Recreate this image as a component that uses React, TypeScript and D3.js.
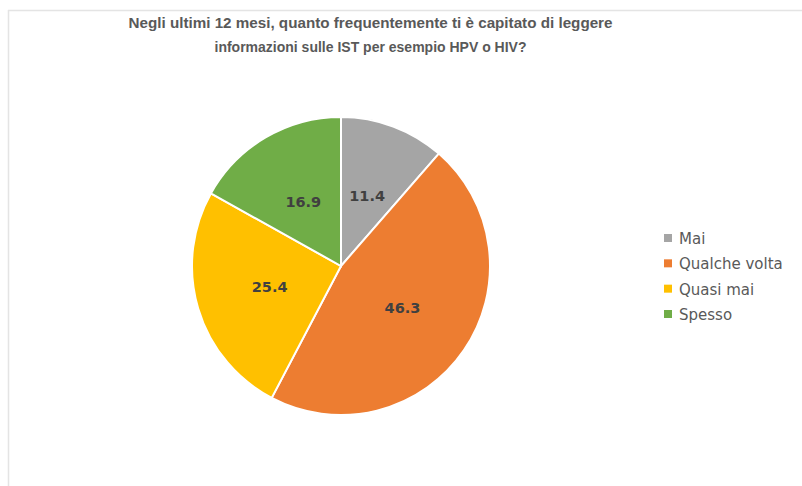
import React from "react";
import * as d3 from "d3";

const titleLines = [
  "Negli ultimi 12 mesi, quanto frequentemente ti è capitato di leggere",
  "informazioni sulle IST per esempio HPV o HIV?",
];
const categories = ["Mai", "Qualche volta", "Quasi mai", "Spesso"];
const values = [11.4, 46.3, 25.4, 16.9];
const colors = ["#A5A5A5", "#ED7D31", "#FFC000", "#70AD47"];

const W = 802;
const H = 486;
const cx = 341;
const cy = 266;
const R = 149;

export default function App() {
  const data = categories.map((c, i) => ({ cat: c, value: values[i], color: colors[i] }));
  const pie = d3
    .pie<any>()
    .sort(null)
    .value((d: any) => d.value)
    .startAngle(0)
    .endAngle(2 * Math.PI);
  const arcs = pie(data);
  const arc = d3.arc<any>().innerRadius(0).outerRadius(R);
  const labelArc = d3.arc<any>().innerRadius(0).outerRadius(R);

  const legendY = d3
    .scalePoint<string>()
    .domain(categories)
    .range([238.5, 314.5]);

  return (
    <svg
      width={W}
      height={H}
      style={{ position: "absolute", left: 0, top: 0, background: "#fff" }}
    >
      <rect x={0} y={0} width={W} height={H} fill="#fff" />
      <line x1={8} y1={10.5} x2={W} y2={10.5} stroke="#e4e4e4" strokeWidth={1.5} />
      <line x1={8.5} y1={10} x2={8.5} y2={H} stroke="#e4e4e4" strokeWidth={1.5} />
      <g
        fontFamily="'Liberation Sans', Arial, sans-serif"
        fontWeight="bold"
        fontSize={15.5}
        fill="#595959"
        textAnchor="middle"
      >
        <text x={370.5} y={28} textLength={484} lengthAdjust="spacingAndGlyphs">
          {titleLines[0]}
        </text>
        <text x={370.5} y={51.5} textLength={312} lengthAdjust="spacingAndGlyphs">
          {titleLines[1]}
        </text>
      </g>
      <g transform={`translate(${cx},${cy})`}>
        {arcs.map((a, i) => (
          <path key={i} d={arc(a) as string} fill={a.data.color} stroke="#fff" strokeWidth={2} />
        ))}
        {arcs.map((a, i) => {
          const [x, y] = labelArc.centroid(a);
          return (
            <text
              key={"l" + i}
              x={x}
              y={y}
              dy="0.36em"
              textAnchor="middle"
              fontFamily="'DejaVu Sans', sans-serif"
              fontWeight="bold"
              fontSize={14.5}
              fill="#404040"
            >
              {a.data.value.toFixed(1)}
            </text>
          );
        })}
      </g>
      <g fontFamily="'DejaVu Sans', sans-serif" fontSize={15} fill="#595959">
        {categories.map((c, i) => {
          const y = legendY(c) as number;
          return (
            <g key={c}>
              <rect x={664} y={y - 4.5} width={8} height={8} fill={colors[i]} />
              <text x={679} y={y} dy="0.36em">
                {c}
              </text>
            </g>
          );
        })}
      </g>
    </svg>
  );
}
